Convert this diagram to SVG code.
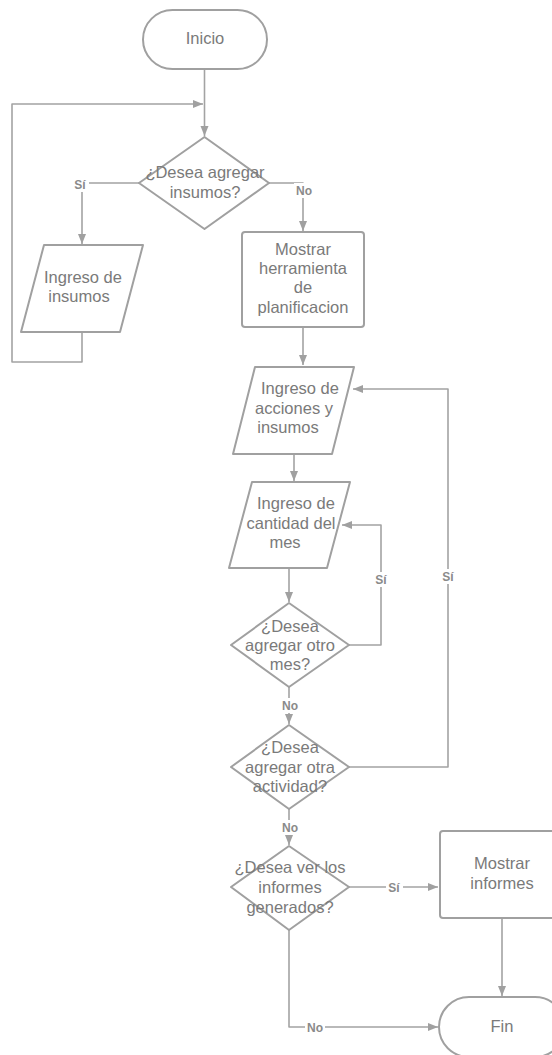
<svg xmlns="http://www.w3.org/2000/svg" width="552" height="1055" viewBox="0 0 552 1055">
<style>
.s{fill:#fff;stroke:#a0a0a0;stroke-width:2;stroke-linejoin:round}
.t{font-family:"Liberation Sans",Arial,sans-serif;font-size:16.5px;fill:#7a7a7a;text-anchor:middle}
.c{fill:none;stroke:#a3a3a3;stroke-width:1.6;stroke-linejoin:round}
.l{font-family:"Liberation Sans",Arial,sans-serif;font-size:12px;font-weight:bold;fill:#8a8a8a;text-anchor:middle}
.bg{fill:#fff}
</style>
<defs>
<marker id="a" viewBox="0 0 10 10" refX="10" refY="5" markerWidth="10" markerHeight="10" markerUnits="userSpaceOnUse" orient="auto">
<path d="M0,1 L10,5 L0,9 Z" fill="#a0a0a0"/>
</marker>
</defs>
<rect width="552" height="1055" fill="#fff"/>
<g id="connectors">
<path class="c" d="M204.5 69 V136" marker-end="url(#a)"/>
<path class="c" d="M82 332 V362 H12 V104 H203" marker-end="url(#a)"/>
<path class="c" d="M139 183 H82 V244" marker-end="url(#a)"/>
<path class="c" d="M269 183 H303 V231" marker-end="url(#a)"/>
<path class="c" d="M303 327 V365" marker-end="url(#a)"/>
<path class="c" d="M294 454 V481" marker-end="url(#a)"/>
<path class="c" d="M289 568 V602" marker-end="url(#a)"/>
<path class="c" d="M349 645 H381 V525 H342" marker-end="url(#a)"/>
<path class="c" d="M289 687 V724" marker-end="url(#a)"/>
<path class="c" d="M349 767 H448 V389 H353" marker-end="url(#a)"/>
<path class="c" d="M289 809 V845" marker-end="url(#a)"/>
<path class="c" d="M349 887 H438" marker-end="url(#a)"/>
<path class="c" d="M502 918 V996" marker-end="url(#a)"/>
<path class="c" d="M289 930 V1027 H438" marker-end="url(#a)"/>
<rect class="bg" x="72" y="177" width="17" height="15"/>
<text class="l" x="80" y="189">Sí</text>
<rect class="bg" x="294" y="183" width="19" height="15"/>
<text class="l" x="304" y="195">No</text>
<rect class="bg" x="373" y="572" width="17" height="15"/>
<text class="l" x="381" y="584">Sí</text>
<rect class="bg" x="440" y="569" width="17" height="15"/>
<text class="l" x="448" y="581">Sí</text>
<rect class="bg" x="280" y="698" width="19" height="15"/>
<text class="l" x="290" y="710">No</text>
<rect class="bg" x="280" y="820" width="19" height="15"/>
<text class="l" x="290" y="832">No</text>
<rect class="bg" x="386" y="880" width="17" height="15"/>
<text class="l" x="394" y="892">Sí</text>
<rect class="bg" x="305" y="1020" width="20" height="15"/>
<text class="l" x="315" y="1032">No</text>
</g>
<g id="inicio">
<rect class="s" x="143" y="10" width="124" height="59" rx="29.5"/>
<text class="t" x="205" y="44">Inicio</text>
</g>
<g id="d1">
<polygon class="s" points="204.5,137 269,183 204.5,229 139,183"/>
<text class="t" x="205" y="178">¿Desea agregar</text>
<text class="t" x="205" y="198">insumos?</text>
</g>
<g id="p1">
<polygon class="s" points="44,245 143,245 120,332 21,332"/>
<text class="t" x="83" y="283">Ingreso de</text>
<text class="t" x="79" y="302">insumos</text>
</g>
<g id="r1">
<rect class="s" x="242" y="232" width="122" height="95" rx="3"/>
<text class="t" x="303" y="255">Mostrar</text>
<text class="t" x="303" y="274">herramienta</text>
<text class="t" x="303" y="293">de</text>
<text class="t" x="303" y="313">planificacion</text>
</g>
<g id="p2">
<polygon class="s" points="255,367 354,367 332,454 233,454"/>
<text class="t" x="300" y="394">Ingreso de</text>
<text class="t" x="294" y="414">acciones y</text>
<text class="t" x="288" y="433">insumos</text>
</g>
<g id="p3">
<polygon class="s" points="252,482 350,482 327,568 229,568"/>
<text class="t" x="296" y="509">Ingreso de</text>
<text class="t" x="291" y="529">cantidad del</text>
<text class="t" x="285" y="548">mes</text>
</g>
<g id="d2">
<polygon class="s" points="289,603 349,645 289,687 231,645"/>
<text class="t" x="290" y="632">¿Desea</text>
<text class="t" x="290" y="651">agregar otro</text>
<text class="t" x="290" y="670">mes?</text>
</g>
<g id="d3">
<polygon class="s" points="289,725 349,767 289,809 231,767"/>
<text class="t" x="290" y="753">¿Desea</text>
<text class="t" x="290" y="773">agregar otra</text>
<text class="t" x="290" y="792">actividad?</text>
</g>
<g id="d4">
<polygon class="s" points="289,846 349,887 289,930 231,887"/>
<text class="t" x="290" y="873">¿Desea ver los</text>
<text class="t" x="290" y="893">informes</text>
<text class="t" x="290" y="913">generados?</text>
</g>
<g id="r2">
<rect class="s" x="440" y="831" width="124" height="87" rx="3"/>
<text class="t" x="502" y="869">Mostrar</text>
<text class="t" x="502" y="889">informes</text>
</g>
<g id="fin">
<rect class="s" x="439" y="997" width="126" height="60" rx="30"/>
<text class="t" x="502" y="1032">Fin</text>
</g>
</svg>
